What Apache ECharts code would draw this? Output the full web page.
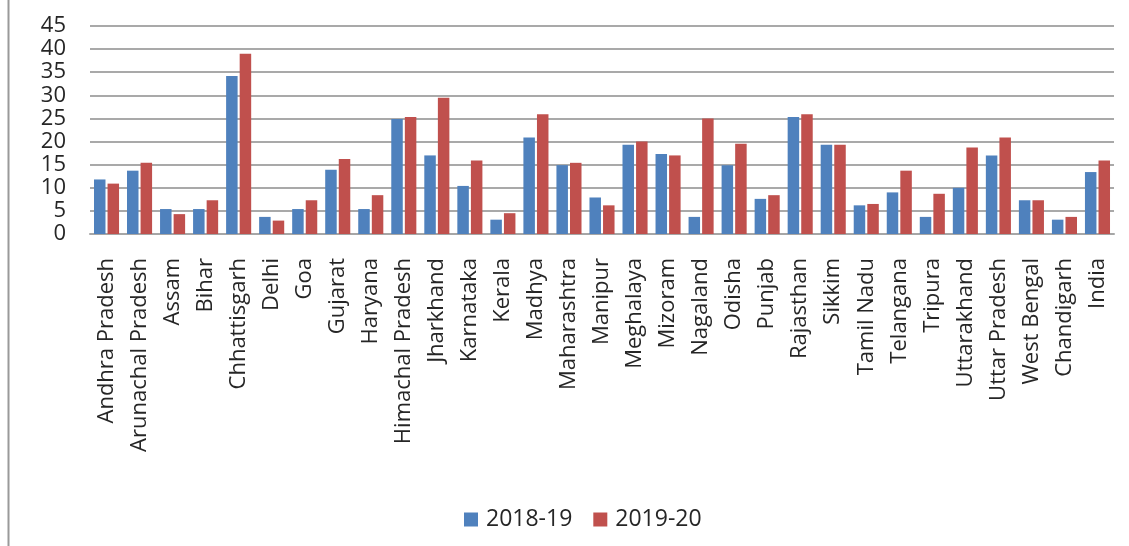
<!DOCTYPE html>
<html>
<head>
<meta charset="utf-8">
<script src="https://cdn.jsdelivr.net/npm/echarts@6/dist/echarts.min.js"></script>
<style>
  html, body { margin: 0; padding: 0; background: #fff; }
  #chart { width: 1129px; height: 546px; }
</style>
</head>
<body>
<div id="chart"></div>
<script>
// States / UTs and the all-India figure
const states = [
  'Andhra Pradesh', 'Arunachal Pradesh', 'Assam', 'Bihar', 'Chhattisgarh',
  'Delhi', 'Goa', 'Gujarat', 'Haryana', 'Himachal Pradesh', 'Jharkhand',
  'Karnataka', 'Kerala', 'Madhya', 'Maharashtra', 'Manipur', 'Meghalaya',
  'Mizoram', 'Nagaland', 'Odisha', 'Punjab', 'Rajasthan', 'Sikkim',
  'Tamil Nadu', 'Telangana', 'Tripura', 'Uttarakhand', 'Uttar Pradesh',
  'West Bengal', 'Chandigarh', 'India'
];

const values2018 = [
  11.8, 13.7, 5.4, 5.4, 34.2, 3.7, 5.4, 13.9, 5.4, 24.9, 17.0,
  10.4, 3.1, 20.9, 14.9, 7.9, 19.3, 17.3, 3.7, 14.9, 7.6, 25.3, 19.3,
  6.2, 9.0, 3.7, 10.0, 17.0, 7.3, 3.1, 13.4
];

const values2019 = [
  10.9, 15.4, 4.3, 7.3, 39.0, 2.9, 7.3, 16.2, 8.4, 25.3, 29.5,
  15.9, 4.5, 25.9, 15.4, 6.2, 20.0, 17.0, 25.0, 19.5, 8.4, 25.9, 19.3,
  6.5, 13.7, 8.7, 18.7, 20.9, 7.3, 3.7, 15.9
];

const seriesNames = ['2018-19', '2019-20'];
const seriesColors = ['#4F81BD', '#C0504D'];

const textColor = '#262626';
const fontFamily = '"Open Sans", "Liberation Sans", sans-serif';

const chart = echarts.init(document.getElementById('chart'));

chart.setOption({
  animation: false,
  backgroundColor: '#ffffff',
  textStyle: { fontFamily: fontFamily, color: textColor },
  graphic: [{
    type: 'line',
    shape: { x1: 8.5, y1: 0, x2: 8.5, y2: 546 },
    style: { stroke: '#9a9a9a', lineWidth: 2 },
    silent: true
  }],
  grid: { left: 90, right: 15, top: 26, bottom: 312, containLabel: false },
  legend: {
    data: seriesNames,
    left: 459,
    top: 503,
    itemWidth: 14,
    itemHeight: 14,
    itemGap: 21,
    icon: 'rect',
    textStyle: { fontSize: 23, color: textColor, fontFamily: fontFamily, padding: [0, 0, 0, 3] }
  },
  xAxis: {
    type: 'category',
    data: states,
    axisLine: { show: true, lineStyle: { color: '#a6a6a6', width: 2 } },
    axisTick: { show: false },
    axisLabel: {
      interval: 0,
      rotate: 90,
      margin: 24,
      fontSize: 22,
      color: textColor,
      fontFamily: fontFamily
    }
  },
  yAxis: {
    type: 'value',
    min: 0,
    max: 45,
    interval: 5,
    axisLine: { show: false },
    axisTick: { show: false },
    splitLine: { show: true, lineStyle: { color: '#8c8c8c', width: 1.5 } },
    axisLabel: {
      margin: 24,
      fontSize: 22,
      color: textColor,
      fontFamily: fontFamily
    }
  },
  series: [
    {
      name: seriesNames[0],
      type: 'bar',
      data: values2018,
      barWidth: 11.5,
      barGap: '18%',
      itemStyle: { color: seriesColors[0] }
    },
    {
      name: seriesNames[1],
      type: 'bar',
      data: values2019,
      barWidth: 11.5,
      barGap: '18%',
      itemStyle: { color: seriesColors[1] }
    }
  ]
});
</script>
</body>
</html>
